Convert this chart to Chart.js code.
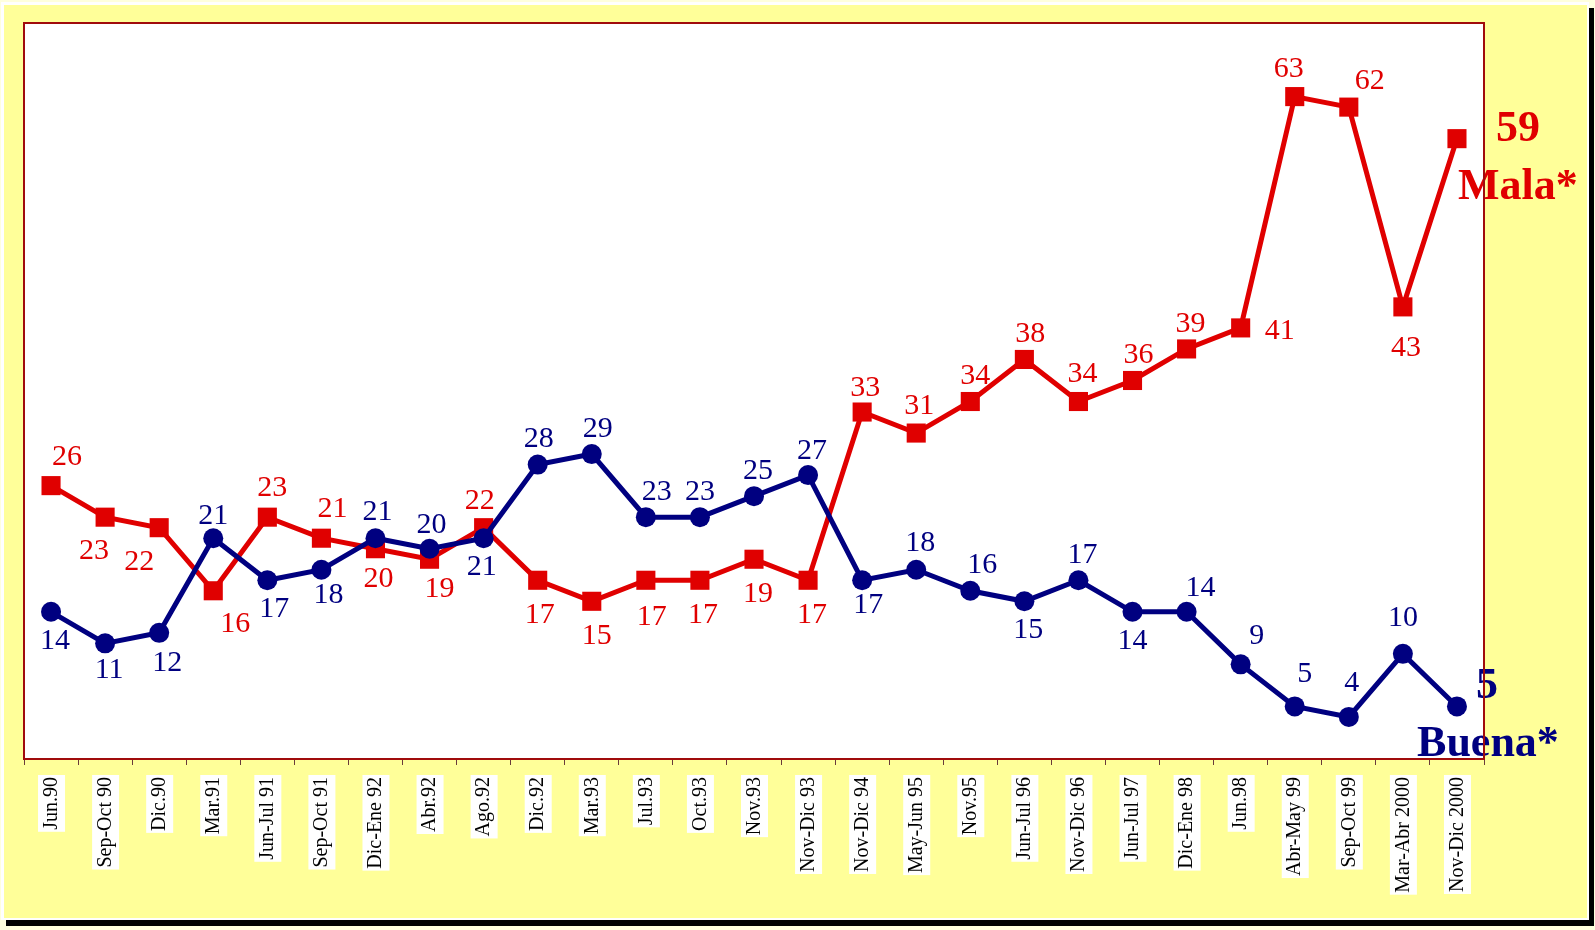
<!DOCTYPE html>
<html><head><meta charset="utf-8">
<script src="https://cdn.jsdelivr.net/npm/chart.js@4/dist/chart.umd.min.js"></script>
<style>
html,body{margin:0;padding:0;background:#FFFFDD;width:1595px;height:930px;overflow:hidden}
#frame{position:absolute;left:1px;top:2px;width:1588px;height:918px;box-sizing:border-box;border:3px solid #fff;border-right-width:2px;border-bottom-width:2px;background:#FFFF99;box-shadow:5px 6px 0 #000}
#wrap{position:absolute;left:0;top:0;width:1595px;height:930px}
</style></head><body>
<div id="frame"></div>
<div id="wrap"><canvas id="c" width="1595" height="930"></canvas></div>
<script>
const categories = ["Jun.90","Sep-Oct 90","Dic.90","Mar.91","Jun-Jul 91","Sep-Oct 91","Dic-Ene 92","Abr.92","Ago.92","Dic.92","Mar.93","Jul.93","Oct.93","Nov.93","Nov-Dic 93","Nov-Dic 94","May-Jun 95","Nov.95","Jun-Jul 96","Nov-Dic 96","Jun-Jul 97","Dic-Ene 98","Jun.98","Abr-May 99","Sep-Oct 99","Mar-Abr 2000","Nov-Dic 2000"];
const buena = [14,11,12,21,17,18,21,20,21,28,29,23,23,25,27,17,18,16,15,17,14,14,9,5,4,10,5];
const mala  = [26,23,22,16,23,21,20,19,22,17,15,17,17,19,17,33,31,34,38,34,36,39,41,63,62,43,59];
const seriesNames = ["Buena*","Mala*"];

// label offsets (dx, dy) from each point, in pixels; null = no small label
const malaLabelOffsets = [[16,-29],[-11,34],[-20,34],[22,33],[5,-29],[11,-29],[3,30],[10,30],[-4,-27],[2,35],[5,35],[6,37],[3,35],[4,35],[4,35],[3,-24],[3,-27],[5,-25],[6,-25],[4,-27],[6,-25],[4,-25],[39,3],[-6,-27],[21,-26],[3,41],null];
const buenaLabelOffsets = [[4,29],[4,27],[8,30],[0,-22],[7,29],[7,25],[2,-26],[2,-24],[-2,29],[1,-25],[6,-25],[11,-25],[0,-25],[4,-25],[4,-24],[6,25],[4,-27],[12,-26],[4,29],[4,-25],[0,29],[14,-24],[16,-28],[10,-32],[3,-34],[0,-36],null];

const plotBg = {
  id:'plotBg',
  beforeDraw(chart){
    const {ctx, chartArea:a} = chart;
    ctx.save(); ctx.fillStyle='#fff'; ctx.fillRect(a.left,a.top,a.right-a.left,a.bottom-a.top); ctx.restore();
  },
  afterDraw(chart){
    const {ctx, chartArea:a} = chart;
    ctx.save(); ctx.strokeStyle='#A00C0C'; ctx.lineWidth=2;
    ctx.strokeRect(a.left,a.top,a.right-a.left,a.bottom-a.top); ctx.restore();
  }
};

const valueLabels = {
  id:'valueLabels',
  afterDatasetsDraw(chart){
    const ctx = chart.ctx;
    chart.data.datasets.forEach((ds,di)=>{
      const meta = chart.getDatasetMeta(di);
      ctx.save();
      ctx.fillStyle = ds.borderColor; ctx.textAlign='center'; ctx.textBaseline='middle';
      ctx.font = '30px "Liberation Serif"';
      meta.data.forEach((pt,i)=>{
        const o = ds.labelOffsets[i]; if(!o) return;
        ctx.fillText(String(ds.data[i]), pt.x+o[0], pt.y+o[1]);
      });
      const n = meta.data.length-1, last = meta.data[n], e = ds.endLabel;
      ctx.font = 'bold 44px "Liberation Serif"';
      ctx.fillText(String(ds.data[n]), last.x+e.value[0], last.y+e.value[1]);
      ctx.fillText(e.name, last.x+e.nameOff[0], last.y+e.nameOff[1]);
      ctx.restore();
    });
  }
};

new Chart(document.getElementById('c'),{
  type:'line',
  data:{labels:categories,datasets:[
    {label:seriesNames[0],data:buena,borderColor:'#000080',backgroundColor:'#000080',borderWidth:5,
     pointStyle:'circle',pointRadius:10,pointBorderWidth:0,clip:false,tension:0,
     labelOffsets:buenaLabelOffsets,endLabel:{value:[30,-20],name:seriesNames[0],nameOff:[31,38]}},
    {label:seriesNames[1],data:mala,borderColor:'#E00000',backgroundColor:'#E00000',borderWidth:5,
     pointStyle:'rect',pointRadius:13.5,pointBorderWidth:0,clip:false,tension:0,
     labelOffsets:malaLabelOffsets,endLabel:{value:[61,-9],name:seriesNames[1],nameOff:[61,49]}}
  ]},
  options:{
    responsive:false,animation:false,
    layout:{padding:{left:24,right:111,top:23,bottom:0}},
    plugins:{legend:{display:false},tooltip:{enabled:false}},
    scales:{
      x:{offset:true,
        grid:{offset:true,drawOnChartArea:false,drawTicks:true,tickLength:6,color:'#6b3a3a',lineWidth:1},
        border:{display:false},
        ticks:{autoSkip:false,maxRotation:90,minRotation:90,padding:12,color:'#000',
          font:{family:'"Liberation Serif"',size:20,lineHeight:0.05},
          showLabelBackdrop:true,backdropColor:'#fff',backdropPadding:{top:13,bottom:13,left:2,right:2}},
        afterFit(s){ s.height = 171; }
      },
      y:{display:false,min:0,max:70}
    }
  },
  plugins:[plotBg,valueLabels]
});
</script>
</body></html>
